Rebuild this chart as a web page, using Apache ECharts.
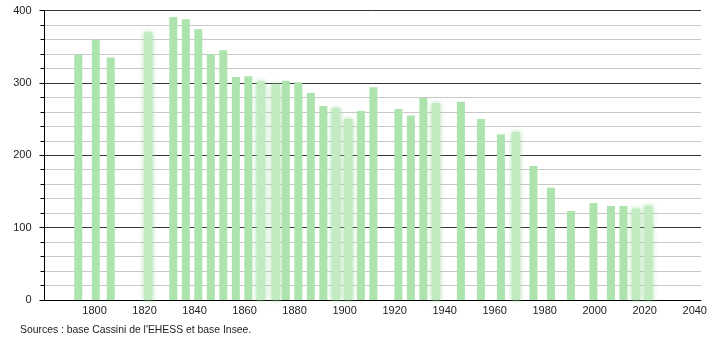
<!DOCTYPE html>
<html><head><meta charset="utf-8">
<script src="https://cdn.jsdelivr.net/npm/echarts@6/dist/echarts.min.js"></script>
<style>html,body{margin:0;padding:0;background:#fff}#c{width:710px;height:340px}</style>
</head><body><div id="c"></div>
<script>
const years = [1793,1800,1806,1821,1831,1836,1841,1846,1851,1856,1861,1866,1872,1876,1881,1886,1891,1896,1901,1906,1911,1921,1926,1931,1936,1946,1954,1962,1968,1975,1982,1990,1999,2006,2011,2016,2021];
const population = [339,360,335,370,391,388,374,340,345,308,309,302,298,303,301,286,268,265,250,261,294,264,255,279,272,274,250,229,232,185,155,123,134,130,130,126,130];
const blurredYears = [1821,1866,1872,1896,1901,1936,1968,2016,2021];
const xTickLabels = [1800,1820,1840,1860,1880,1900,1920,1940,1960,1980,2000,2020,2040];
const yTickLabels = [0,100,200,300,400];
const sourceText = "Sources : base Cassini de l'EHESS et base Insee.";

const green = '#ade3ad';
const data = years.map((y,i)=>{
  const d = {value:[y, population[i]]};
  if (blurredYears.includes(y)) {
    d.itemStyle = {color:'#c2ebc2', shadowBlur:5, shadowColor:'rgba(150,215,150,0.9)'};
  }
  return d;
});

const chart = echarts.init(document.getElementById('c'), null, {renderer:'canvas'});
chart.setOption({
  animation:false,
  backgroundColor:'#fff',
  textStyle:{fontFamily:'Liberation Sans, Arial, sans-serif'},
  title:{text:sourceText,left:20,top:325,padding:0,textStyle:{fontSize:10.4,fontWeight:'normal',color:'#222',fontFamily:'Liberation Sans, Arial, sans-serif'}},
  grid:{left:44.5,right:9,top:10.5,bottom:40,containLabel:false},
  xAxis:[{type:'value',min:1780,max:2042.5,interval:20,
    axisLine:{show:true,lineStyle:{color:'#000',width:1}},
    axisTick:{show:false},
    splitLine:{show:false},
    axisLabel:{margin:5,fontSize:11,color:'#222',
      formatter:v=> xTickLabels.includes(v) ? String(v) : ''}
  },{type:'value',min:1779.5,max:2042,show:false,splitLine:{show:false}}],
  yAxis:{type:'value',min:0,max:400,interval:100,
    axisLine:{show:true,lineStyle:{color:'#000',width:1}},
    axisTick:{show:true,length:5,lineStyle:{color:'#000'}},
    minorTick:{show:true,splitNumber:5,length:4,lineStyle:{color:'#000'}},
    splitLine:{show:true,lineStyle:{color:'#333',width:1}},
    minorSplitLine:{show:true,lineStyle:{color:'#c8c8c8',width:1}},
    axisLabel:{margin:13,fontSize:11,color:'#222',formatter:v=> yTickLabels.includes(v)?String(v):''}
  },
  series:[{type:'bar',xAxisIndex:1,barWidth:8,data:data,itemStyle:{color:green},z:3}]
});
</script></body></html>
